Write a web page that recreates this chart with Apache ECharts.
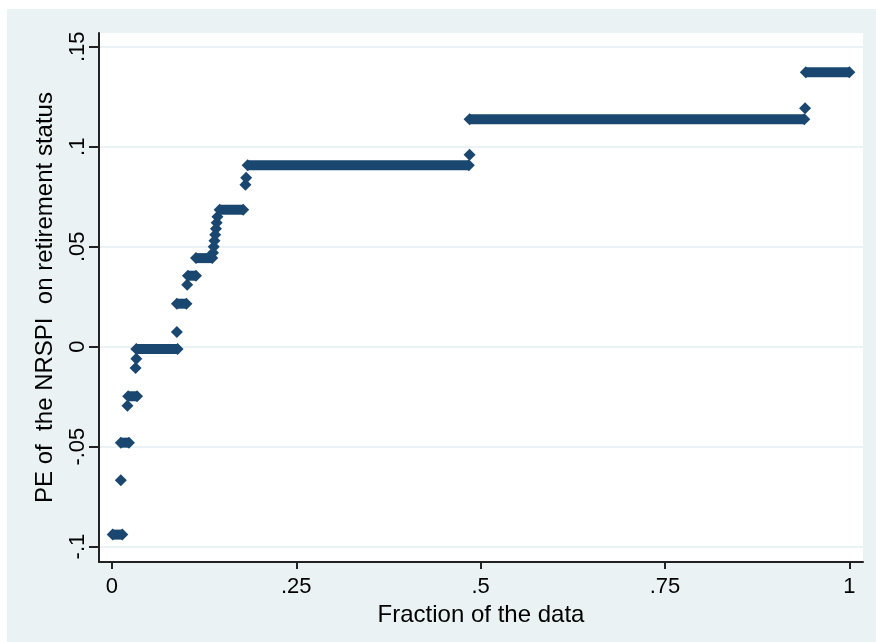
<!DOCTYPE html>
<html>
<head>
<meta charset="utf-8">
<script src="https://cdn.jsdelivr.net/npm/echarts@6/dist/echarts.min.js"></script>
<style>
  html, body { margin: 0; padding: 0; background: #fff; }
  .outer { position: absolute; left: 7px; top: 9px; width: 869px; height: 633px; background: #eaf2f3; }
  #chart { position: absolute; left: 0; top: 0; width: 876px; height: 642px; }
</style>
</head>
<body>
<div class="outer"></div>
<div id="chart"></div>
<script>
// flat runs of the quantile plot: level, first and last fraction
const stepLevel = [-0.094, -0.048, -0.0248, -0.0012, 0.0215, 0.0355, 0.0443, 0.0685, 0.0907, 0.1138, 0.1373];
const stepStart = [0.001, 0.012, 0.022, 0.033, 0.088, 0.103, 0.114, 0.146, 0.184, 0.485, 0.941];
const stepEnd = [0.014, 0.023, 0.034, 0.089, 0.101, 0.114, 0.136, 0.178, 0.484, 0.939, 1.0];

// single observations between the runs
const pointX = [0.012, 0.021, 0.032, 0.033, 0.088, 0.102, 0.137, 0.138, 0.139, 0.140, 0.141, 0.142, 0.143, 0.181, 0.182, 0.485, 0.940];
const pointY = [-0.0668, -0.0295, -0.0107, -0.006, 0.0073, 0.031, 0.047, 0.050, 0.053, 0.056, 0.059, 0.062, 0.065, 0.081, 0.0845, 0.096, 0.1193];

const xTicks = [0, 0.25, 0.5, 0.75, 1];
const xTickText = ["0", ".25", ".5", ".75", "1"];
const yTicks = [-0.1, -0.05, 0, 0.05, 0.1, 0.15];
const yTickText = ["-.1", "-.05", "0", ".05", ".1", ".15"];

const navy = "#1a476f";
const font = "'Liberation Sans', Arial, sans-serif";

const chart = echarts.init(document.getElementById("chart"));

const series = [];
stepLevel.forEach((lvl, i) => {
  series.push({
    type: "line",
    data: [[stepStart[i], lvl], [stepEnd[i], lvl]],
    symbol: "diamond",
    symbolSize: 12,
    showSymbol: true,
    itemStyle: { color: navy, opacity: 1 },
    lineStyle: { color: navy, width: 10, cap: "butt" },
    silent: true,
  });
});
series.push({
  type: "scatter",
  data: pointX.map((x, i) => [x, pointY[i]]),
  symbol: "diamond",
  symbolSize: 12,
  itemStyle: { color: navy, opacity: 1 },
  silent: true,
});

const labelMap = (vals, texts) => (v) => {
  const i = vals.findIndex((t) => Math.abs(t - v) < 1e-9);
  return i >= 0 ? texts[i] : "";
};

chart.setOption({
  animation: false,
  backgroundColor: "transparent",
  grid: {
    left: 99, top: 33, right: 13, bottom: 80,
    show: true, backgroundColor: "#fff", borderWidth: 0,
  },
  xAxis: {
    type: "value",
    min: -0.0176, max: 1.0186,
    name: "Fraction of the data",
    nameLocation: "middle",
    nameGap: 33,
    nameTextStyle: { color: "#000", fontSize: 24, fontFamily: font },
    axisLine: { show: true, onZero: false, lineStyle: { color: "#222", width: 2 } },
    axisTick: { show: true, length: 7, customValues: xTicks, lineStyle: { color: "#222", width: 2 } },
    axisLabel: {
      customValues: xTicks, formatter: labelMap(xTicks, xTickText),
      color: "#000", fontSize: 22, fontFamily: font, margin: 14,
    },
    splitLine: { show: false },
  },
  yAxis: {
    type: "value",
    min: -0.1077, max: 0.1569,
    name: "PE of  the NRSPI  on retirement status",
    nameLocation: "middle",
    nameGap: 42,
    nameTextStyle: { color: "#000", fontSize: 24, fontFamily: font },
    axisLine: { show: true, onZero: false, lineStyle: { color: "#222", width: 2 } },
    axisTick: { show: true, length: 10, customValues: yTicks, lineStyle: { color: "#222", width: 2 } },
    axisLabel: {
      customValues: yTicks, formatter: labelMap(yTicks, yTickText), rotate: 90,
      color: "#000", fontSize: 22, fontFamily: font, margin: 10,
    },
    splitLine: { show: true, lineStyle: { color: "#eaf2f3", width: 2 } },
  },
  series: series,
});
</script>
</body>
</html>
